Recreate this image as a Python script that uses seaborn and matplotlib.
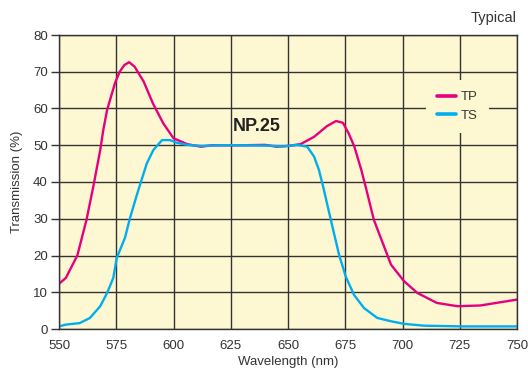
import matplotlib
matplotlib.use("Agg")
import matplotlib.pyplot as plt
import seaborn as sns
import pandas as pd

tp_wl = [550, 553, 558, 562, 565, 568, 569.3, 571, 574.5, 576.5, 578.5, 580.6, 583, 587, 591,
         595.5, 600, 606, 612, 617, 630, 640, 645, 650, 655.5, 661.4, 667, 671, 674, 676.5,
         679, 682, 684, 687.5, 690.5, 695, 700.7, 706.5, 715, 724, 734, 741, 750]
tp_val = [12.3, 13.9, 20, 29.7, 38.8, 48.7, 54, 59.6, 67, 70, 71.8, 72.6, 71.4, 67.3, 61.4,
          56, 51.9, 50.3, 49.6, 50, 50, 50.1, 49.6, 49.8, 50.3, 52.3, 55.2, 56.6, 56.1, 53.2,
          49.6, 43.3, 38.5, 29.7, 24.8, 17.5, 13, 9.8, 7.1, 6.2, 6.4, 7.1, 8]

ts_wl = [550, 553, 559, 563.5, 568, 571, 573.7, 575.2, 578.8, 581, 584, 588.3, 591.2, 595,
         598.5, 601.4, 606, 612, 620, 630, 640, 648, 654, 658.4, 661.4, 663.5, 665.4, 668.7,
         672.3, 675.2, 678.8, 683.2, 689, 695, 700.7, 709.4, 727, 750]
ts_val = [0.7, 1.2, 1.6, 3, 6.2, 9.8, 13.9, 19.3, 24.8, 30.2, 36.5, 45, 48.7, 51.4,
          51.4, 50.7, 50.1, 49.8, 50, 50, 49.9, 49.7, 50.1, 49.6, 46.9, 43.3, 38.6, 29.7,
          20.2, 14.3, 9.3, 5.7, 3, 2.1, 1.4, 0.9, 0.7, 0.7]

x_ticks = [550, 575, 600, 625, 650, 675, 700, 725, 750]
y_ticks = [0, 10, 20, 30, 40, 50, 60, 70, 80]

df = pd.concat([
    pd.DataFrame({"Wavelength": tp_wl, "T": tp_val, "Pol": "TP"}),
    pd.DataFrame({"Wavelength": ts_wl, "T": ts_val, "Pol": "TS"}),
])

sns.set_theme(style="white")
plt.rcParams['font.family'] = ['Liberation Sans', 'DejaVu Sans']

bg = "#fdf8d2"
txt = "#333333"
fig = plt.figure(figsize=(5.28, 3.76), dpi=100)
ax = fig.add_axes([59/528, 47/376, 458/528, 294/376])
ax.set_facecolor(bg)

sns.lineplot(data=df, x="Wavelength", y="T", hue="Pol",
             palette={"TP": "#e6007e", "TS": "#00aeef"}, linewidth=1.7, ax=ax, sort=False)

ax.set_xlim(550, 750)
ax.set_ylim(0, 80)
ax.set_xticks(x_ticks)
ax.set_yticks(y_ticks)
ax.grid(True, color="#333333", linewidth=1.0)
ax.set_axisbelow(True)
for s in ax.spines.values():
    s.set_color("#333333")
    s.set_linewidth(1.0)
ax.tick_params(axis="both", labelsize=9.5, labelcolor=txt)
ax.tick_params(axis="y", left=True, length=5.5, width=1.0, color="#333333",
               direction="out", pad=2.5)
ax.tick_params(axis="x", bottom=False, length=0, pad=8)
ax.set_xlabel("Wavelength (nm)", fontsize=9.5, color=txt, labelpad=3)
ax.set_ylabel("Transmission (%)", fontsize=9.5, color=txt, labelpad=7)

leg = ax.legend(title=None, loc="center", bbox_to_anchor=(0.870, 0.757),
                frameon=True, fontsize=9.5, handlelength=1.45, handletextpad=0.4,
                borderpad=0.85, labelspacing=0.5)
leg.get_frame().set_facecolor(bg)
leg.get_frame().set_edgecolor("none")
leg.get_frame().set_alpha(1)
leg.get_frame().set_boxstyle("square", pad=0.0)
for h in leg.get_lines():
    h.set_linewidth(2.6)
for t in leg.get_texts():
    t.set_color(txt)

ax.text(636.5, 55.2, "NP.25", fontsize=13, fontweight="bold", ha="center", va="center",
        color="#222222")
fig.text(517/528, 1 - 18/376, "Typical", fontsize=10.5, ha="right", va="center", color=txt)

fig.savefig("out.png", dpi=100)
